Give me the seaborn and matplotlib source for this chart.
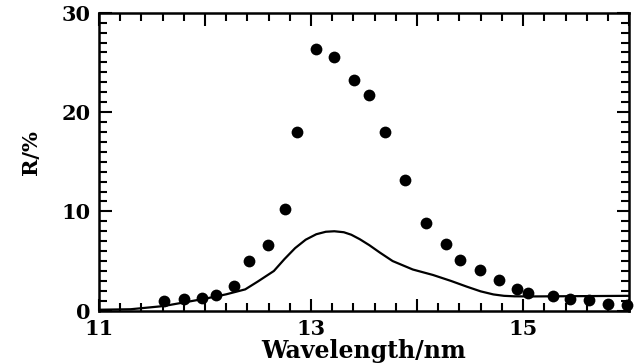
import matplotlib
matplotlib.use("Agg")
import matplotlib.pyplot as plt
from matplotlib.ticker import MultipleLocator, FixedLocator, FuncFormatter
import seaborn as sns
import pandas as pd

# measured reflectance (dots)
dot_wavelength = [11.61, 11.80, 11.97, 12.10, 12.27, 12.42, 12.59, 12.755, 12.87,
                  13.047, 13.217, 13.406, 13.55, 13.70, 13.89, 14.085, 14.27, 14.406,
                  14.59, 14.77, 14.94, 15.05, 15.286, 15.44, 15.62, 15.80, 15.98]
dot_R = [0.97, 1.14, 1.31, 1.54, 2.48, 4.98, 6.66, 10.2, 18.0,
         26.3, 25.55, 23.2, 21.7, 18.0, 13.2, 8.84, 6.76, 5.08,
         4.05, 3.05, 2.2, 1.79, 1.52, 1.2, 1.06, 0.64, 0.54]

# calculated curve (line)
line_wavelength = [11.0, 11.3, 11.61, 12.0, 12.2, 12.38, 12.5, 12.65, 12.75, 12.85,
                   12.95, 13.05, 13.14, 13.22, 13.31, 13.38, 13.46, 13.55, 13.65,
                   13.77, 13.96, 14.15, 14.32, 14.47, 14.6, 14.72, 14.82, 14.92,
                   15.1, 15.41, 15.7, 16.0]
line_R = [0.1, 0.15, 0.47, 1.21, 1.65, 2.15, 2.95, 4.0, 5.2, 6.3,
          7.15, 7.7, 7.95, 8.0, 7.9, 7.65, 7.2, 6.6, 5.85,
          5.0, 4.15, 3.6, 3.0, 2.42, 1.95, 1.64, 1.5, 1.45,
          1.44, 1.46, 1.48, 1.5]

x_ticks = [11, 12, 13, 14, 15, 16]
x_ticklabels = {11: "11", 13: "13", 15: "15"}
y_ticks = [0, 10, 20, 30]

sns.set_style("ticks")
plt.rcParams["font.family"] = ["DejaVu Serif"]
plt.rcParams["font.weight"] = "bold"

fig = plt.figure(figsize=(6.42, 3.63), dpi=100)
ax = fig.add_axes([0.154, 0.144, 0.826, 0.821])

dots = pd.DataFrame({"wl": dot_wavelength, "R": dot_R})
curve = pd.DataFrame({"wl": line_wavelength, "R": line_R})

sns.lineplot(data=curve, x="wl", y="R", ax=ax, color="black", linewidth=1.6,
             estimator=None, sort=True)
sns.scatterplot(data=dots, x="wl", y="R", ax=ax, color="black", s=72,
                edgecolor="black", linewidth=0, clip_on=False, zorder=3)

ax.set_xlim(11, 16)
ax.set_ylim(0, 30)

ax.xaxis.set_major_locator(FixedLocator(x_ticks))
ax.xaxis.set_major_formatter(FuncFormatter(lambda v, p: x_ticklabels.get(int(round(v)), "")))
ax.xaxis.set_minor_locator(MultipleLocator(0.2))
ax.yaxis.set_major_locator(FixedLocator(y_ticks))
ax.yaxis.set_minor_locator(MultipleLocator(1))

for s in ax.spines.values():
    s.set_visible(True)
    s.set_linewidth(1.8)
    s.set_color("black")
    s.set_zorder(1)

ax.tick_params(axis="both", which="major", direction="in", top=True, right=True,
               bottom=True, left=True, length=9, width=1.5, color="black",
               labelsize=15, labelcolor="black", pad=6, zorder=5)
ax.tick_params(axis="both", which="minor", direction="in", top=True, right=True,
               bottom=True, left=True, length=6, width=1.5, color="black", zorder=5)

ax.set_xlabel("Wavelength/nm", fontsize=17, fontweight="bold", labelpad=0, color="black")
ax.set_ylabel("R/%", fontsize=15, fontweight="bold", color="black")
ax.yaxis.set_label_coords(-0.11, 0.53)

fig.savefig("out.png", dpi=100, facecolor="white")
